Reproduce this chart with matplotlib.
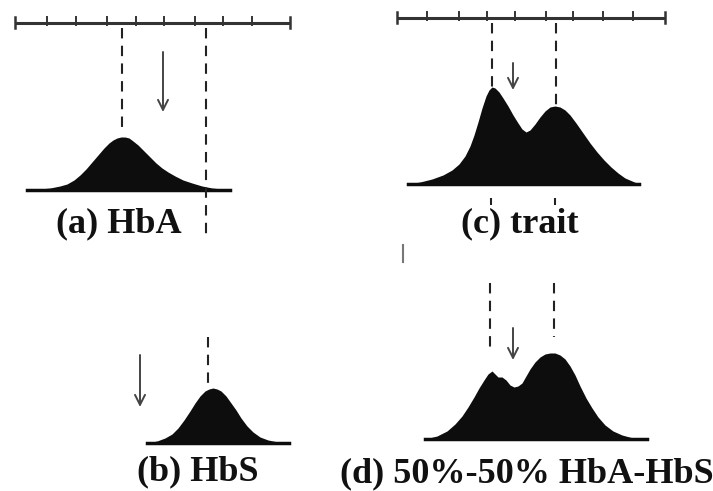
import numpy as np
import matplotlib.pyplot as plt

# everything in picture pixels (x right, y down)
W, H = 713, 491

# scale bars at the top: (x start, x end, y), inner ticks
bar_a = (15, 290, 23)
ticks_a = [47, 76, 107, 136, 164, 195, 223, 252]
bar_c = (397, 665, 18)
ticks_c = [427, 459, 487, 515, 546, 573, 603, 633]

# peak profiles
peak_a_x = [27, 40, 50, 60, 67, 74, 80, 86, 92, 98, 104, 109, 113, 117, 121, 125, 129, 133, 138,
            144, 150, 156, 162, 168, 175, 183, 192, 202, 212, 222, 230]
peak_a_y = [190, 189, 188, 186, 184, 180, 175, 169, 162, 155, 148, 143, 140, 138, 137, 137, 138, 141, 145,
            151, 157, 163, 168, 172, 176, 180, 183, 186, 188, 189, 190]
base_a = 190

peak_b_x = [147, 157, 165, 172, 178, 184, 190, 195, 200, 205, 209, 213, 217, 221, 226, 231, 236, 241,
            247, 253, 260, 268, 278, 289]
peak_b_y = [443, 441, 438, 434, 428, 420, 411, 403, 396, 391, 389, 388, 389, 391, 396, 403, 410, 418,
            426, 432, 437, 440, 442, 443]
base_b = 443

peak_c_x = [408, 420, 432, 443, 452, 459, 465, 470, 474, 478, 482, 486, 489, 492, 495, 499, 503, 508,
            513, 518, 522, 526, 530, 535, 540, 545, 550, 555, 560, 565, 570, 576, 583, 590, 597,
            604, 611, 618, 625, 632, 639]
peak_c_y = [184, 182, 179, 175, 170, 164, 156, 146, 135, 122, 108, 96, 90, 87, 88, 92, 98, 106,
            115, 123, 129, 132, 130, 124, 117, 111, 107, 106, 107, 110, 115, 123, 133, 143, 152,
            160, 167, 173, 178, 181, 184]
base_c = 184

peak_d_x = [425, 437, 447, 455, 462, 468, 474, 479, 484, 488, 492, 495, 498, 502, 506, 510, 514, 518,
            522, 526, 530, 535, 540, 545, 550, 555, 560, 565, 570, 575, 580, 586, 592, 598, 605,
            613, 622, 633, 647]
peak_d_y = [439, 436, 431, 424, 416, 407, 397, 388, 380, 374, 371, 374, 377, 377, 380, 385, 387, 386,
            383, 376, 369, 362, 357, 354, 353, 353, 355, 359, 366, 375, 386, 398, 408, 417, 425,
            431, 435, 438, 439]
base_d = 439

# dashed guide lines: x, y top, y bottom
dashes = [(122, 28, 133), (206, 28, 235),
          (492, 23, 87), (556, 23, 105), (491, 198, 205), (555, 198, 205),
          (208, 337, 387),
          (490, 283, 352), (554, 283, 337)]

# arrows: x, y start, y end
arrows = [(163, 52, 112), (513, 63, 90), (140, 355, 407), (513, 328, 360)]

labels = ['(a) HbA', '(c) trait', '(b) HbS', '(d) 50%-50% HbA-HbS']
label_pos = [(119, 232), (520, 232), (198, 480), (527, 482)]

fig = plt.figure(figsize=(W / 100, H / 100), dpi=100)
ax = fig.add_axes([0, 0, 1, 1])
ax.set_xlim(0, W)
ax.set_ylim(H, 0)
ax.axis('off')

for (x0, x1, y), ticks in [(bar_a, ticks_a), (bar_c, ticks_c)]:
    ax.plot([x0, x1], [y, y], color='#333333', lw=2.2, solid_capstyle='butt')
    for t in ticks:
        ax.plot([t, t], [y - 6, y + 2], color='#333333', lw=1.4)
    for e in (x0, x1):
        ax.plot([e, e], [y - 6, y + 5], color='#333333', lw=1.8)

for px, py, base in [(peak_a_x, peak_a_y, base_a), (peak_b_x, peak_b_y, base_b),
                     (peak_c_x, peak_c_y, base_c), (peak_d_x, peak_d_y, base_d)]:
    ax.fill_between(px, py, base, color='#0d0d0d', lw=0)
    ax.plot([px[0], px[-1]], [base, base], color='#0d0d0d', lw=2.5)

for x, y0, y1 in dashes:
    ax.plot([x, x], [y0, y1], color='#222222', lw=1.5, dashes=(5, 3.5))

for x, y0, y1 in arrows:
    ax.annotate('', xy=(x, y1), xytext=(x, y0),
                arrowprops=dict(arrowstyle='->', color='#444444', lw=1.4,
                                mutation_scale=18, shrinkA=0, shrinkB=0))

# stray tick mark left of panel (d)
ax.plot([403, 403], [245, 262], color='#777777', lw=1.5)

for txt, (x, y) in zip(labels, label_pos):
    ax.text(x, y, txt, ha='center', va='baseline', fontsize=26,
            fontweight='bold', family='Liberation Serif', color='#111111')

plt.savefig('out.png', dpi=100)
